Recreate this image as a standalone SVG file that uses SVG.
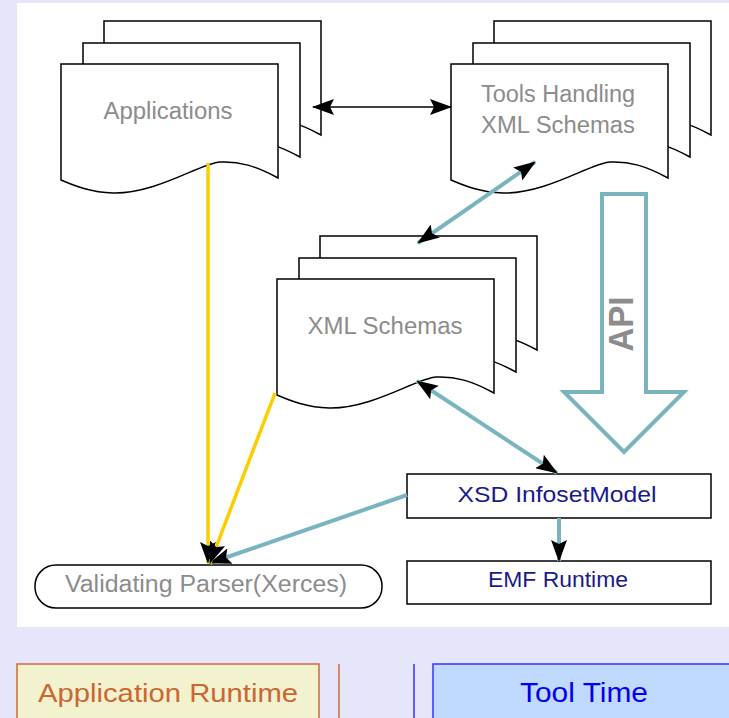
<svg xmlns="http://www.w3.org/2000/svg" xmlns:xlink="http://www.w3.org/1999/xlink" width="729" height="718" viewBox="0 0 729 718">
<style>
.doc{fill:#fff;stroke:#000;stroke-width:1.5;stroke-linejoin:miter}
.box{fill:#fff;stroke:#000;stroke-width:1.5}
.gt{font-family:"Liberation Sans",Arial,sans-serif;font-size:23px;fill:#8c8c8c}
.bt{font-family:"Liberation Sans",Arial,sans-serif;font-size:22px;fill:#1a1a8c}
.teal{fill:none;stroke:#7ab4be;stroke-width:4}
.yel{fill:none;stroke:#ffcc00;stroke-width:3.5}
.blk{fill:none;stroke:#000;stroke-width:1.5}
</style>
<defs>
<marker id="ah" viewBox="0 0 22 16" refX="21" refY="8" markerWidth="22" markerHeight="16" markerUnits="userSpaceOnUse" orient="auto-start-reverse">
<path d="M0,0 L22,8 L0,16 L4,8 Z" fill="#000"/>
</marker>
<path id="page" d="M0,0 H217 V114 C195,102 178,97 159,98 C140,99 95,130 52,129 C30,128.5 14,122 0,116 Z"/>
<g id="stack">
<use xlink:href="#page" class="doc" transform="translate(43,-43)"/>
<use xlink:href="#page" class="doc" transform="translate(22,-21)"/>
<use xlink:href="#page" class="doc"/>
</g>
</defs>
<rect width="729" height="718" fill="#e6e6fa"/>
<rect x="17" y="3" width="712" height="624" fill="#fff"/>

<g id="applications">
<use xlink:href="#stack" transform="translate(61,64)"/>
<text class="gt" x="168" y="119" text-anchor="middle" textLength="129" lengthAdjust="spacingAndGlyphs">Applications</text>
</g>
<g id="tools">
<use xlink:href="#stack" transform="translate(451,64)"/>
<text class="gt" x="558" y="102" text-anchor="middle" textLength="154" lengthAdjust="spacingAndGlyphs">Tools Handling</text>
<text class="gt" x="558" y="133" text-anchor="middle" textLength="154" lengthAdjust="spacingAndGlyphs">XML Schemas</text>
</g>
<g id="xmlschemas">
<use xlink:href="#stack" transform="translate(277,279)"/>
<text class="gt" x="385" y="334" text-anchor="middle" textLength="155" lengthAdjust="spacingAndGlyphs">XML Schemas</text>
</g>
<g id="api">
<polygon points="602,194 646,194 646,392 684,392 624,452 564,392 602,392" fill="#fff" stroke="#7ab4be" stroke-width="4"/>
<text transform="translate(633,324) rotate(-90)" x="0" y="0" text-anchor="middle" font-family="'Liberation Sans',Arial,sans-serif" font-size="35" font-weight="bold" fill="#8c8c8c" textLength="55" lengthAdjust="spacingAndGlyphs">API</text>
</g>
<g id="xsd">
<rect class="box" x="407" y="474" width="304" height="44"/>
<text class="bt" x="557" y="502" text-anchor="middle" textLength="199" lengthAdjust="spacingAndGlyphs">XSD InfosetModel</text>
</g>
<g id="emf">
<rect class="box" x="407" y="561" width="304" height="43"/>
<text class="bt" x="558" y="587" text-anchor="middle" textLength="140" lengthAdjust="spacingAndGlyphs">EMF Runtime</text>
</g>
<g id="parser">
<rect class="box" x="35" y="565" width="347" height="43" rx="21" ry="21"/>
<text class="gt" x="206" y="592" text-anchor="middle" textLength="282" lengthAdjust="spacingAndGlyphs">Validating Parser(Xerces)</text>
</g>

<g id="connectors">
<path class="blk" d="M313,107 H451" marker-start="url(#ah)" marker-end="url(#ah)"/>
<path class="teal" d="M418,243 L535,162" marker-start="url(#ah)" marker-end="url(#ah)"/>
<path class="teal" d="M417,381 L557,473" marker-start="url(#ah)" marker-end="url(#ah)"/>
<path class="teal" d="M559,518 V561" marker-end="url(#ah)"/>
<path class="teal" d="M407,495 L210,563" marker-end="url(#ah)"/>
<path class="yel" d="M208,163 V563" marker-end="url(#ah)"/>
<path class="yel" d="M275,393 L210,563" marker-end="url(#ah)"/>
</g>

<g id="legend-app">
<rect x="17" y="664" width="302" height="60" fill="#f2f2ce" stroke="#d06a3a" stroke-width="1.5"/>
<text x="168" y="702" text-anchor="middle" font-family="'Liberation Sans',Arial,sans-serif" font-size="26" fill="#cc6633" textLength="260" lengthAdjust="spacingAndGlyphs">Application Runtime</text>
</g>
<line x1="339" y1="664" x2="339" y2="718" stroke="#d06a3a" stroke-width="1.5"/>
<line x1="414" y1="664" x2="414" y2="718" stroke="#3333ff" stroke-width="1.5"/>
<g id="legend-tool">
<rect x="433" y="664" width="300" height="60" fill="#c0d9ff" stroke="#3333ff" stroke-width="1.5"/>
<text x="584" y="702" text-anchor="middle" font-family="'Liberation Sans',Arial,sans-serif" font-size="27" fill="#0000ee" textLength="128" lengthAdjust="spacingAndGlyphs">Tool Time</text>
</g>
</svg>
